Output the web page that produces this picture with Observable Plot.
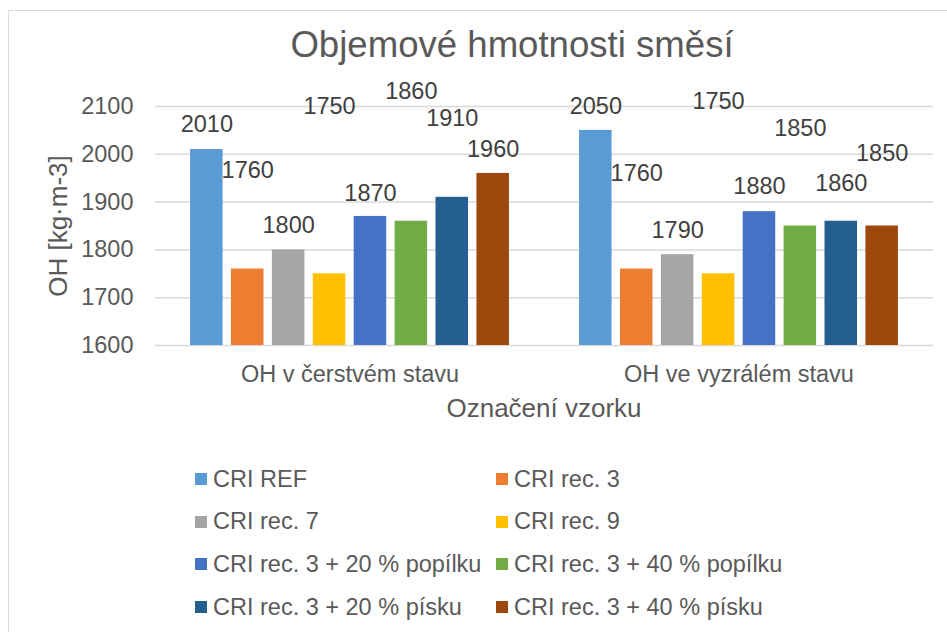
<!DOCTYPE html>
<html>
<head>
<meta charset="utf-8">
<script src="https://cdn.jsdelivr.net/npm/d3@7"></script>
<script src="https://cdn.jsdelivr.net/npm/@observablehq/plot@0.6"></script>
<style>
  html, body { margin: 0; padding: 0; background: #fff; overflow: hidden; }
  #wrap { position: relative; width: 947px; height: 632px; overflow: hidden; font-family: "Liberation Sans", Arial, sans-serif; color: #595959; }
  #frame { position: absolute; left: 8px; top: 10px; width: 1100px; height: 800px; border: 1.5px solid #d9d9d9; box-sizing: border-box; }
  #chart { position: absolute; left: 0; top: 0; }
  .abs { position: absolute; white-space: nowrap; line-height: 1; }
  .sw { position: absolute; width: 12px; height: 12px; }
</style>
</head>
<body>
<div id="wrap">
  <div id="frame"></div>
  <div id="chart"></div>
</div>
<script>
// ---- data ----
const chartTitle = "Objemové hmotnosti směsí";
const yTitle = "OH [kg·m-3]";
const xTitle = "Označení vzorku";
const groups = ["OH v čerstvém stavu", "OH ve vyzrálém stavu"];
const series = [
  "CRI REF", "CRI rec. 3", "CRI rec. 7", "CRI rec. 9",
  "CRI rec. 3 + 20 % popílku", "CRI rec. 3 + 40 % popílku",
  "CRI rec. 3 + 20 % písku", "CRI rec. 3 + 40 % písku"
];
const colors = ["#5B9BD5", "#ED7D31", "#A5A5A5", "#FFC000", "#4472C4", "#70AD47", "#255E91", "#9E480E"];
const valuesFresh  = [2010, 1760, 1800, 1750, 1870, 1860, 1910, 1960];
const valuesMature = [2050, 1760, 1790, 1750, 1880, 1850, 1860, 1850];
// where the data labels sit (in axis units), as placed in the reference
const labelYFresh  = [2062, 1966, 1851, 2101, 1919, 2132, 2074, 2010];
const labelYMature = [2101, 1960, 1841, 2110, 1932, 2055, 1939, 2001];
const yTicks = [1600, 1700, 1800, 1900, 2000, 2100];

// ---- table built from the arrays ----
const rows = [];
series.forEach((s, i) => {
  rows.push({group: groups[0], series: s, value: valuesFresh[i], labelY: labelYFresh[i]});
  rows.push({group: groups[1], series: s, value: valuesMature[i], labelY: labelYMature[i]});
});

const FONT = "'Liberation Sans', Arial, sans-serif";
const plot = Plot.plot({
  width: 947,
  height: 440,
  marginTop: 106,
  marginBottom: 95,
  marginLeft: 155,
  marginRight: 14,
  style: {background: "transparent", fontFamily: FONT, fontSize: "23.5px", color: "#595959", overflow: "visible"},
  fx: {domain: groups, padding: 0, round: false},
  x: {domain: series, paddingInner: 0.205, paddingOuter: 0.857, round: false, axis: null},
  y: {domain: [yTicks[0], yTicks[yTicks.length - 1]]},
  color: {domain: series, range: colors},
  marks: [
    Plot.gridY(yTicks, {stroke: "#d9d9d9", strokeOpacity: 1, strokeWidth: 1.5}),
    Plot.axisY(yTicks, {tickSize: 0, tickPadding: 22, label: null, tickFormat: d => String(d), fontSize: 23.5, fill: "#595959"}),
    Plot.axisFx({anchor: "bottom", tickSize: 0, tickPadding: 20, label: null, fontSize: 23.5, fill: "#595959"}),
    Plot.barY(rows, {fx: "group", x: "series", y1: yTicks[0], y2: "value", fill: "series"}),
    Plot.text(rows, {fx: "group", x: "series", y: "labelY", text: d => String(d.value), fill: "#404040", fontSize: 23.5})
  ]
});
document.getElementById("chart").appendChild(plot);

const wrap = document.getElementById("wrap");
function addText(txt, css) {
  const d = document.createElement("div");
  d.className = "abs";
  d.textContent = txt;
  Object.assign(d.style, css);
  wrap.appendChild(d);
  return d;
}
// title
addText(chartTitle, {left: "512px", top: "27px", fontSize: "36.6px", transform: "translateX(-50%)"});
// x axis title
addText(xTitle, {left: "544px", top: "395px", fontSize: "26px", transform: "translateX(-50%)"});
// y axis title
addText(yTitle, {left: "57.5px", top: "225.5px", fontSize: "26px", transform: "translate(-50%,-50%) rotate(-90deg)"});

// legend (two columns, four rows)
const legCols = [195, 496];
series.forEach((s, i) => {
  const col = i % 2, row = Math.floor(i / 2);
  const cy = 479 + row * 42.67;
  const sw = document.createElement("div");
  sw.className = "sw";
  sw.style.left = legCols[col] + "px";
  sw.style.top = (cy - 6) + "px";
  sw.style.background = colors[i];
  wrap.appendChild(sw);
  addText(s, {left: (legCols[col] + 18) + "px", top: (cy - 11.5) + "px", fontSize: "23.5px"});
});
</script>
</body>
</html>
